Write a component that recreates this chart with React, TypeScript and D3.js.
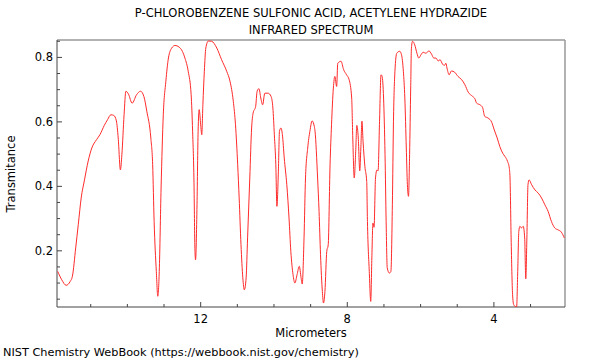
import React from 'react';
import * as d3 from 'd3';

// Wavelength (micrometers)
const wavelength = [
  15.90, 15.79, 15.67, 15.56, 15.50, 15.41, 15.34, 15.26, 15.17, 15.07,
  14.97, 14.84, 14.75, 14.63, 14.54, 14.45, 14.37, 14.30, 14.25, 14.19,
  14.15, 14.09, 14.04, 13.97, 13.87, 13.75, 13.64, 13.55, 13.47, 13.36,
  13.31, 13.27, 13.21, 13.17, 13.13, 13.08, 13.02, 12.95, 12.88, 12.79,
  12.70, 12.59, 12.50, 12.43,
  12.34, 12.26, 12.22, 12.18, 12.16, 12.14, 12.10, 12.07, 12.04, 12.00,
  11.97, 11.94, 11.90, 11.86, 11.79, 11.70, 11.56, 11.43, 11.29, 11.20,
  11.11, 11.05, 10.99, 10.95, 10.90, 10.85, 10.81, 10.76, 10.72, 10.66,
  10.61, 10.57, 10.50, 10.46, 10.41, 10.36, 10.31, 10.25, 10.16, 10.08,
  10.03, 9.99, 9.95, 9.92, 9.88, 9.85, 9.81, 9.77, 9.72, 9.65,
  9.59, 9.54, 9.48, 9.43, 9.37, 9.31, 9.26, 9.23, 9.18, 9.14,
  9.08, 9.02, 8.96, 8.90,
  8.88, 8.81, 8.77, 8.73, 8.68, 8.65, 8.61, 8.56, 8.52, 8.47,
  8.43, 8.38, 8.34, 8.29, 8.26, 8.17, 8.10, 8.02, 7.95, 7.88,
  7.85, 7.81, 7.77, 7.74, 7.70, 7.66, 7.63, 7.60, 7.57, 7.52,
  7.47, 7.45, 7.40, 7.36, 7.33, 7.30, 7.27, 7.23, 7.19, 7.16,
  7.12, 7.08, 7.05, 7.01, 6.97, 6.94, 6.91, 6.85, 6.81, 6.77,
  6.74, 6.70, 6.65, 6.57, 6.52, 6.47, 6.43, 6.39, 6.36, 6.33,
  6.30, 6.27, 6.25, 6.22, 6.16, 6.10, 6.05, 5.99, 5.93, 5.86,
  5.77, 5.70, 5.64, 5.58, 5.52,
  5.47, 5.40, 5.35, 5.31, 5.28, 5.22, 5.16, 5.07, 4.98, 4.88,
  4.79, 4.70, 4.58, 4.52, 4.47, 4.38, 4.31, 4.25, 4.16, 4.06,
  3.99, 3.91, 3.84, 3.76, 3.70, 3.63, 3.58, 3.56, 3.53, 3.49,
  3.46, 3.38, 3.35, 3.32, 3.29, 3.25, 3.20, 3.16, 3.13, 3.10,
  3.07, 3.04, 2.97, 2.88, 2.79, 2.70, 2.61, 2.52, 2.43, 2.34,
  2.25, 2.16, 2.08,
];

// Transmittance
const transmittance = [
  0.136, 0.110, 0.093, 0.105, 0.121, 0.209, 0.281, 0.364, 0.420, 0.478,
  0.519, 0.545, 0.560, 0.589, 0.607, 0.622, 0.620, 0.603, 0.550, 0.451,
  0.498, 0.622, 0.695, 0.686, 0.658, 0.684, 0.695, 0.679, 0.633, 0.550,
  0.467, 0.291, 0.136, 0.059, 0.136, 0.395, 0.622, 0.726, 0.798, 0.829,
  0.837, 0.832, 0.819, 0.798,
  0.757, 0.684, 0.571, 0.395, 0.219, 0.172, 0.343, 0.571, 0.638, 0.591,
  0.560, 0.653, 0.757, 0.829, 0.851, 0.850, 0.829, 0.793, 0.757, 0.726,
  0.664, 0.591, 0.467, 0.364, 0.219, 0.116, 0.079, 0.116, 0.240, 0.426,
  0.581, 0.627, 0.648, 0.695, 0.703, 0.674, 0.653, 0.689, 0.689, 0.679,
  0.643, 0.560, 0.467, 0.338, 0.447, 0.571, 0.581, 0.560, 0.488, 0.405,
  0.302, 0.198, 0.126, 0.100, 0.126, 0.152, 0.116, 0.097, 0.240, 0.426,
  0.519, 0.571, 0.603, 0.586,
  0.571, 0.426, 0.322, 0.188, 0.074, 0.038, 0.074, 0.198, 0.219, 0.467,
  0.591, 0.705, 0.741, 0.710, 0.782, 0.788, 0.762, 0.746, 0.731, 0.674,
  0.550, 0.426, 0.509, 0.589, 0.550, 0.448, 0.519, 0.602, 0.540, 0.462,
  0.415, 0.291, 0.136, 0.043, 0.178, 0.286, 0.273, 0.426, 0.451, 0.448,
  0.602, 0.746, 0.741, 0.674, 0.498, 0.291, 0.147, 0.131, 0.136, 0.343,
  0.602, 0.757, 0.813, 0.819, 0.808, 0.757, 0.674, 0.519, 0.405, 0.369,
  0.498, 0.705, 0.829, 0.850, 0.839, 0.813, 0.798, 0.808, 0.816, 0.813,
  0.820, 0.810, 0.798, 0.798, 0.789,
  0.793, 0.779, 0.775, 0.782, 0.767, 0.746, 0.758, 0.754, 0.741, 0.731,
  0.715, 0.692, 0.679, 0.672, 0.658, 0.653, 0.645, 0.617, 0.612, 0.599,
  0.575, 0.550, 0.524, 0.503, 0.493, 0.478, 0.457, 0.426, 0.240, 0.064,
  0.033, 0.025, 0.136, 0.260, 0.276, 0.271, 0.276, 0.240, 0.113, 0.240,
  0.405, 0.420, 0.405, 0.389, 0.379, 0.364, 0.343, 0.322, 0.291, 0.271,
  0.265, 0.258, 0.240,
];

const xMajorTicks = [12, 8, 4];
const xMinorTicks = [15, 14, 13, 11, 10, 9, 7, 6, 5, 3];
const yMajorTicks = [0.2, 0.4, 0.6, 0.8];
const yMinorTicks = [0.05, 0.1, 0.15, 0.25, 0.3, 0.35, 0.45, 0.5, 0.55, 0.65, 0.7, 0.75, 0.85];

const titleLines = ['P-CHLOROBENZENE SULFONIC ACID, ACETYLENE HYDRAZIDE', 'INFRARED SPECTRUM'];
const xLabel = 'Micrometers';
const yLabel = 'Transmitance';
const footer = 'NIST Chemistry WebBook (https://webbook.nist.gov/chemistry)';

export default function App() {
  const W = 600;
  const H = 360;
  const left = 57, right = 565, top = 40, bottom = 307;
  const x = d3.scaleLinear().domain([15.92, 2.06]).range([left, right]);
  const y = d3.scaleLinear().domain([0.0257, 0.854]).range([bottom, top]);
  const data = d3.zip(wavelength, transmittance) as [number, number][];
  const line = d3
    .line<[number, number]>()
    .x((d) => x(d[0]))
    .y((d) => y(d[1]))
    .curve(d3.curveMonotoneX);
  const font = '"DejaVu Sans", sans-serif';
  const axisColor = '#444';
  const frameColor = '#999';

  return (
    <svg
      width={W}
      height={H}
      style={{ position: 'absolute', left: 0, top: 0, background: '#fff' }}
      fontFamily={font}
    >
      <defs>
        <clipPath id="plotClip">
          <rect x={left} y={top} width={right - left} height={bottom - top} />
        </clipPath>
      </defs>
      {titleLines.map((t, i) => (
        <text key={i} x={311} y={17 + i * 17} textAnchor="middle" fontSize={11.5} fill="#000">
          {t}
        </text>
      ))}
      {/* frame */}
      <line x1={left} x2={right} y1={top} y2={top} stroke={frameColor} strokeWidth={1.5} />
      <line x1={right} x2={right} y1={top} y2={bottom} stroke={frameColor} strokeWidth={1.5} />
      <line x1={left} x2={left} y1={top} y2={bottom} stroke={axisColor} strokeWidth={1} />
      <line x1={left} x2={right} y1={bottom} y2={bottom} stroke={axisColor} strokeWidth={1} />
      {/* y ticks */}
      {yMajorTicks.map((t) => (
        <g key={'ym' + t}>
          <line x1={left} x2={left + 5} y1={y(t)} y2={y(t)} stroke={axisColor} />
          <text x={left - 4} y={y(t)} dy="0.35em" textAnchor="end" fontSize={11.5} fill="#000">
            {t.toFixed(1)}
          </text>
        </g>
      ))}
      {yMinorTicks.map((t) => (
        <line key={'yn' + t} x1={left} x2={left + 3} y1={y(t)} y2={y(t)} stroke={axisColor} />
      ))}
      {/* x ticks */}
      {xMajorTicks.map((t) => (
        <g key={'xm' + t}>
          <line x1={x(t)} x2={x(t)} y1={bottom} y2={bottom - 5} stroke={axisColor} />
          <text x={x(t)} y={323} textAnchor="middle" fontSize={11.5} fill="#000">
            {t}
          </text>
        </g>
      ))}
      {xMinorTicks.map((t) => (
        <line key={'xn' + t} x1={x(t)} x2={x(t)} y1={bottom} y2={bottom - 3} stroke={axisColor} />
      ))}
      <text x={311} y={336.5} textAnchor="middle" fontSize={11.5} fill="#000">
        {xLabel}
      </text>
      <text transform="translate(15,174) rotate(-90)" textAnchor="middle" fontSize={11.5} fill="#000">
        {yLabel}
      </text>
      <text x={3} y={356} fontSize={11.3} fill="#000">
        {footer}
      </text>
      <path
        d={line(data) || ''}
        fill="none"
        stroke="#ff2a2a"
        strokeWidth={1}
        clipPath="url(#plotClip)"
      />
    </svg>
  );
}
